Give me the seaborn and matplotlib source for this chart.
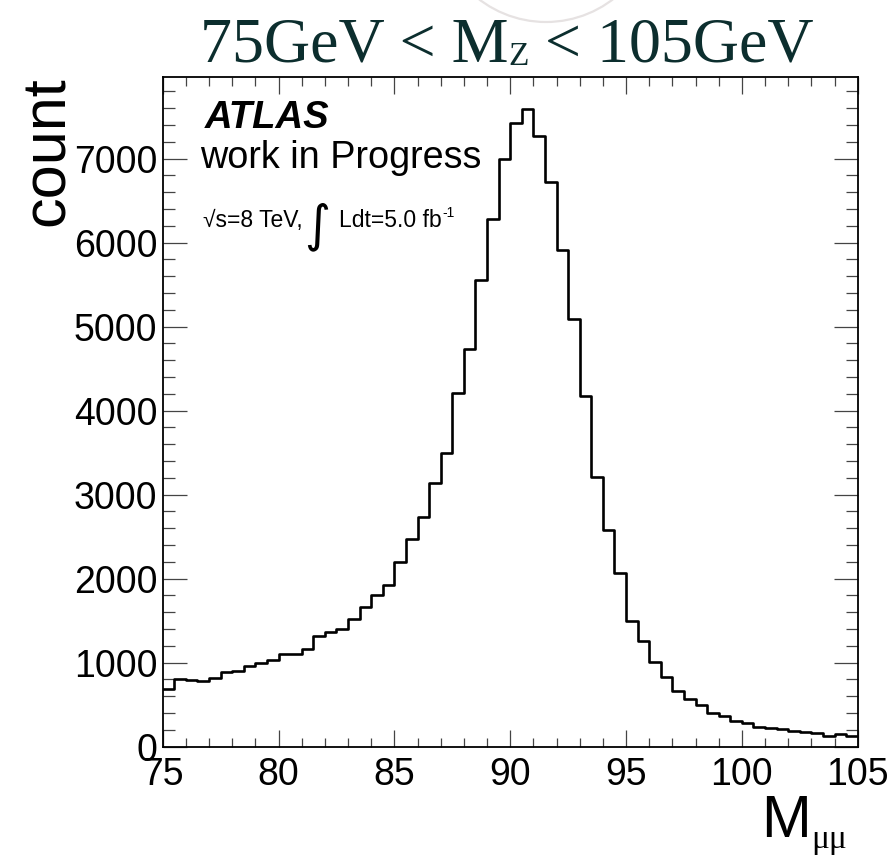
import numpy as np
import pandas as pd
import matplotlib
matplotlib.use("Agg")
import matplotlib.pyplot as plt
import seaborn as sns
from matplotlib.ticker import MultipleLocator
from matplotlib.patches import Circle

# ---------------- data ----------------
bin_edges = [75.0 + 0.5 * i for i in range(61)]
counts = [686, 802, 792, 778, 813, 885, 901, 960, 992, 1028,
          1099, 1099, 1163, 1321, 1361, 1405, 1524, 1667, 1801, 1920,
          2198, 2476, 2730, 3135, 3500, 4206, 4730, 5556, 6278, 6993,
          7429, 7588, 7270, 6726, 5913, 5088, 4174, 3206, 2579, 2063,
          1496, 1258, 1012, 833, 663, 563, 492, 397, 365, 310,
          286, 234, 218, 206, 190, 171, 159, 131, 155, 127]
x_ticks = [75, 80, 85, 90, 95, 100, 105]
y_ticks = [0, 1000, 2000, 3000, 4000, 5000, 6000, 7000]
title_parts = ["75GeV < M", "Z", " < 105GeV"]
y_label = "count"
x_label_main = "M"
x_label_sub = "μμ"
atlas_label = "ATLAS"
wip_label = "work in Progress"
lumi_parts = ["√s=8 TeV,", "∫", "Ldt=5.0 fb", "-1"]

edges_arr = np.array(bin_edges)
centers = (edges_arr[:-1] + edges_arr[1:]) / 2
df = pd.DataFrame({"mass": centers, "count": np.array(counts, dtype=float)})

# ---------------- style ----------------
sns.set_theme(style="white")
plt.rcParams["font.family"] = ["Liberation Sans", "DejaVu Sans"]
plt.rcParams["text.color"] = "black"
plt.rcParams["axes.labelcolor"] = "black"
plt.rcParams["xtick.color"] = "black"
plt.rcParams["ytick.color"] = "black"

W, H = 891, 855
fig = plt.figure(figsize=(W / 100, H / 100), dpi=100)
L, R, T, B = 162.7, 857.7, 76.7, 746.7
ax = fig.add_axes([L / W, 1 - B / H, (R - L) / W, (B - T) / H])

sns.histplot(data=df, x="mass", weights="count", bins=bin_edges,
             element="step", fill=False, color="black", linewidth=1.9, ax=ax)

ax.set_xlim(75, 105)
ax.set_ylim(0, 7976)
ax.set_xticks(x_ticks)
ax.set_yticks(y_ticks)
ax.xaxis.set_minor_locator(MultipleLocator(1))
ax.yaxis.set_minor_locator(MultipleLocator(200))

tick_col = "#444444"
ax.tick_params(axis="x", which="major", direction="in", length=12.5, width=0.9,
               color=tick_col, top=True, bottom=True, labelsize=27, pad=7.5,
               labelcolor="black")
ax.tick_params(axis="x", which="minor", direction="in", length=6.5, width=0.9,
               color=tick_col, top=True, bottom=True)
ax.tick_params(axis="y", which="major", direction="in", length=17.5, width=0.9,
               color=tick_col, left=True, right=True, labelsize=27, pad=4,
               labelcolor="black")
ax.tick_params(axis="y", which="minor", direction="in", length=8.8, width=0.9,
               color=tick_col, left=True, right=True)
for s in ax.spines.values():
    s.set_visible(True)
    s.set_color("black")
    s.set_linewidth(1.3)

ax.set_xticklabels([str(v) for v in x_ticks])
ax.set_yticklabels([str(v) for v in y_ticks])

# axis labels
ax.set_ylabel(y_label, fontsize=44, loc="top", color="black")
ax.yaxis.set_label_coords((77 - L) / (R - L), 1.0)
ax.set_xlabel(x_label_main, fontsize=43, loc="right", color="black")
ax.xaxis.label.set_verticalalignment("baseline")
ax.xaxis.set_label_coords((811 - L) / (R - L), -(837 - B) / (B - T))
ax.xaxis.label.set_horizontalalignment("right")


def fx(px):
    return px / W


def fy(py):
    return 1 - py / H


fig.canvas.draw()
rend = fig.canvas.get_renderer()


def place_seq(parts, x0, base_y):
    x = x0
    out = []
    for txt, size, dy, gap, fam, kw in parts:
        x += gap
        t = fig.text(fx(x), fy(base_y + dy), txt, fontsize=size, family=fam,
                     ha="left", va="baseline", **kw)
        bb = t.get_window_extent(rend)
        x = bb.x1
        out.append(t)
    return out


# x-label subscript
fig.text(fx(811), fy(848), x_label_sub, fontsize=24, color="black",
         family=["Liberation Serif", "DejaVu Serif"], ha="left", va="baseline")

# title
tcol = "#0c2e2e"
serif = ["Liberation Serif", "DejaVu Serif"]
place_seq([
    (title_parts[0], 46, 0, 0, serif, {"color": tcol}),
    (title_parts[1], 24, 3, 0, serif, {"color": tcol}),
    (title_parts[2], 46, 0, 0, serif, {"color": tcol}),
], 200, 62)

# ATLAS labels
fig.text(fx(205), fy(128), atlas_label, fontsize=27.5, fontweight="bold",
         fontstyle="italic", ha="left", va="baseline", color="black")
fig.text(fx(200), fy(168), wip_label, fontsize=27.2, ha="left", va="baseline",
         color="black")

sans = ["Liberation Sans", "DejaVu Sans"]
place_seq([
    (lumi_parts[0], 16.5, 0, 0, sans, {"color": "black"}),
    (lumi_parts[1], 36, 13, 2, ["DejaVu Sans"], {"color": "black"}),
    (lumi_parts[2], 16.5, 0, 8, sans, {"color": "black"}),
    (lumi_parts[3], 10, -10, 1, sans, {"color": "black"}),
], 203, 227)

# faint watermark arc
fig.add_artist(Circle((5.46, (H + 88) / 100), 1.10, transform=fig.dpi_scale_trans,
                      fill=False, edgecolor="#e6e2e2", linewidth=1.6, clip_on=False))

fig.savefig("out.png", dpi=100)
